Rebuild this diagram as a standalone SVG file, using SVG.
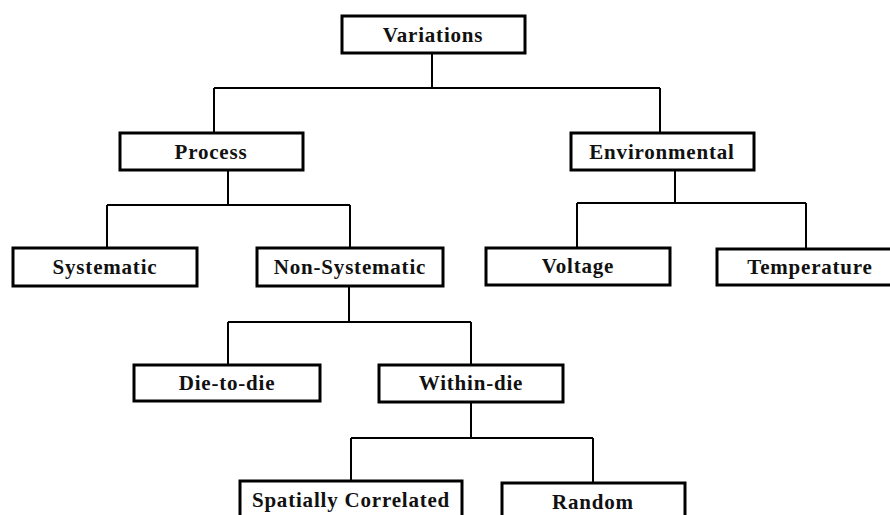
<svg xmlns="http://www.w3.org/2000/svg" width="890" height="515" viewBox="0 0 890 515">
<style>
.box{fill:#fff;stroke:#000;stroke-width:3}
.lbl{font-family:"Liberation Serif","Times New Roman",serif;font-weight:bold;font-size:21px;letter-spacing:0.8px;fill:#111;text-anchor:middle}
.con{fill:none;stroke:#000;stroke-width:2}
</style>
<rect width="890" height="515" fill="#fff"/>
<g id="connectors">
<path class="con" d="M432 53V88M214 88H660M214 88V133M660 88V133"/>
<path class="con" d="M228 170V205M107 205H350M107 205V248M350 205V248"/>
<path class="con" d="M675 170V203M577 203H806M577 203V248M806 203V249"/>
<path class="con" d="M349 286V322M228 322H471M228 322V365M471 322V365"/>
<path class="con" d="M471 401V438M351 438H593M351 438V481M593 438V483"/>
</g>
<g id="variations"><rect class="box" x="342" y="16" width="183" height="37"/><text class="lbl" x="433" y="42">Variations</text></g>
<g id="process"><rect class="box" x="120" y="133" width="183" height="37"/><text class="lbl" x="211" y="159">Process</text></g>
<g id="environmental"><rect class="box" x="571" y="133" width="183" height="37"/><text class="lbl" x="662" y="159">Environmental</text></g>
<g id="systematic"><rect class="box" x="13" y="248" width="184" height="38"/><text class="lbl" x="105" y="274">Systematic</text></g>
<g id="non-systematic"><rect class="box" x="257" y="248" width="186" height="38"/><text class="lbl" x="350" y="274">Non-Systematic</text></g>
<g id="voltage"><rect class="box" x="486" y="248" width="184" height="37"/><text class="lbl" x="578" y="273">Voltage</text></g>
<g id="temperature"><rect class="box" x="717" y="249" width="190" height="36"/><text class="lbl" x="810" y="274">Temperature</text></g>
<g id="die-to-die"><rect class="box" x="134" y="365" width="186" height="36"/><text class="lbl" x="227" y="390">Die-to-die</text></g>
<g id="within-die"><rect class="box" x="379" y="365" width="184" height="37"/><text class="lbl" x="471" y="390">Within-die</text></g>
<g id="spatially-correlated"><rect class="box" x="240" y="481" width="222" height="45"/><text class="lbl" x="351" y="507">Spatially Correlated</text></g>
<g id="random"><rect class="box" x="502" y="483" width="183" height="45"/><text class="lbl" x="593" y="509">Random</text></g>
</svg>
